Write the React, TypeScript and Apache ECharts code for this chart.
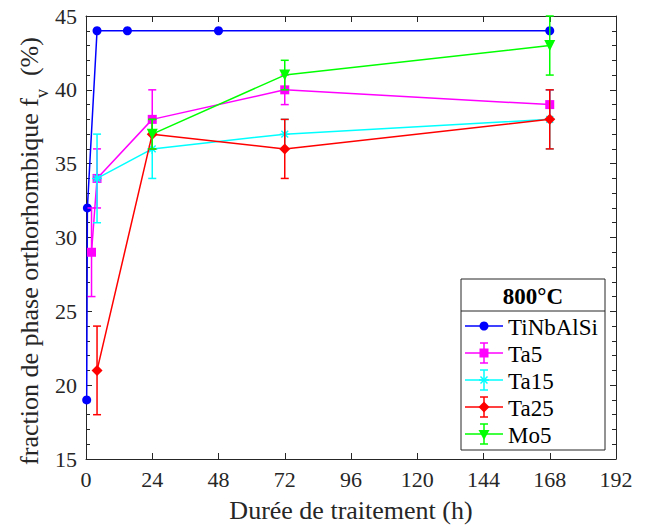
import React, { useEffect, useRef } from "react";
import * as echarts from "echarts";

const seriesNames = ["TiNbAlSi", "Ta5", "Ta15", "Ta25", "Mo5"];
const seriesColors = ["#0000ff", "#ff00ff", "#00ffff", "#ff0000", "#00ff00"];

const tiNbAlSiHours = [0.25, 0.5, 4, 15, 48, 168];
const tiNbAlSiValues = [19, 32, 44, 44, 44, 44];
const tiNbAlSiErrors = [0, 0, 0, 0, 0, 0];

const ta5Hours = [2, 4, 24, 72, 168];
const ta5Values = [29, 34, 38, 40, 39];
const ta5Errors = [3, 2, 2, 1, 1];

const ta15Hours = [4, 24, 72, 168];
const ta15Values = [34, 36, 37, 38];
const ta15Errors = [3, 2, 1, 2];

const ta25Hours = [4, 24, 72, 168];
const ta25Values = [21, 37, 36, 38];
const ta25Errors = [3, 1, 2, 2];

const mo5Hours = [24, 72, 168];
const mo5Values = [37, 41, 43];
const mo5Errors = [1, 1, 2];

const xMin = 0;
const xMax = 192;
const xStep = 24;
const yMin = 15;
const yMax = 45;
const yStep = 5;

const legendTitle = "800°C";
const xAxisTitle = "Durée de traitement (h)";
const yAxisTitleMain = "fraction de phase orthorhombique f";
const yAxisTitleSub = "v";
const yAxisTitleUnit = "  (%)";

const FONT = "Liberation Serif";
const AX = "#262626";

const ASTERISK = "path://M5,0L5,10M0,5L10,5M1.6,1.6L8.4,8.4M8.4,1.6L1.6,8.4";

const allHours = [tiNbAlSiHours, ta5Hours, ta15Hours, ta25Hours, mo5Hours];
const allValues = [tiNbAlSiValues, ta5Values, ta15Values, ta25Values, mo5Values];
const allErrors = [tiNbAlSiErrors, ta5Errors, ta15Errors, ta25Errors, mo5Errors];
const symbols = ["circle", "rect", ASTERISK, "diamond", "triangle"];
const symbolSizes = [9, 9, 10, 11, 11];
const symbolRotates = [0, 0, 0, 0, 180];

function errorSeries(i: number) {
  const color = seriesColors[i];
  const data = allHours[i]
    .map((h, k) => [h, allValues[i][k] - allErrors[i][k], allValues[i][k] + allErrors[i][k], allErrors[i][k]])
    .filter((d) => d[3] > 0);
  return {
    type: "custom",
    name: seriesNames[i] + " err",
    z: 2 + i * 2,
    clip: false,
    data,
    renderItem: (_p: any, api: any) => {
      const x = api.value(0);
      const lo = api.coord([x, api.value(1)]);
      const hi = api.coord([x, api.value(2)]);
      const w = 4;
      const st = { stroke: color, lineWidth: 1.5 };
      return {
        type: "group",
        children: [
          { type: "line", shape: { x1: lo[0], y1: lo[1], x2: hi[0], y2: hi[1] }, style: st },
          { type: "line", shape: { x1: lo[0] - w, y1: lo[1], x2: lo[0] + w, y2: lo[1] }, style: st },
          { type: "line", shape: { x1: hi[0] - w, y1: hi[1], x2: hi[0] + w, y2: hi[1] }, style: st },
        ],
      };
    },
  };
}

function lineSeries(i: number) {
  const color = seriesColors[i];
  return {
    type: "line",
    name: seriesNames[i],
    z: 3 + i * 2,
    data: allHours[i].map((h, k) => [h, allValues[i][k]]),
    symbol: symbols[i],
    symbolSize: symbolSizes[i],
    symbolRotate: symbolRotates[i],
    showAllSymbol: true,
    clip: false,
    lineStyle: { color, width: 1.5 },
    itemStyle: { color, borderColor: color, borderWidth: i === 2 ? 1.5 : 0 },
  };
}

function legendGraphic() {
  const left = 461;
  const top = 279;
  const right = 605;
  const bottom = 450;
  const sep = 311;
  const rows = [326, 353, 380, 407, 434];
  const lx1 = 465;
  const lx2 = 503;
  const mx = 484;
  const tx = 508;
  const children: any[] = [
    { type: "rect", shape: { x: left, y: top, width: right - left, height: bottom - top }, style: { fill: "#fff", stroke: AX, lineWidth: 1 } },
    { type: "line", shape: { x1: left, y1: sep, x2: right, y2: sep }, style: { stroke: AX, lineWidth: 1 } },
    {
      type: "text",
      x: (left + right) / 2,
      y: (top + sep) / 2 + 1,
      style: { text: legendTitle, fontFamily: FONT, fontSize: 23, fontWeight: "bold", fill: "#000", align: "center", verticalAlign: "middle" },
    },
  ];
  rows.forEach((y, i) => {
    const c = seriesColors[i];
    const st = { stroke: c, lineWidth: 1.5 };
    children.push({ type: "line", shape: { x1: lx1, y1: y, x2: lx2, y2: y }, style: st });
    if (i > 0) {
      children.push({ type: "line", shape: { x1: mx, y1: y - 10, x2: mx, y2: y + 10 }, style: st });
      children.push({ type: "line", shape: { x1: mx - 4, y1: y - 10, x2: mx + 4, y2: y - 10 }, style: st });
      children.push({ type: "line", shape: { x1: mx - 4, y1: y + 10, x2: mx + 4, y2: y + 10 }, style: st });
    }
    if (i === 0) children.push({ type: "circle", shape: { cx: mx, cy: y, r: 4.5 }, style: { fill: c } });
    if (i === 1) children.push({ type: "rect", shape: { x: mx - 4.5, y: y - 4.5, width: 9, height: 9 }, style: { fill: c } });
    if (i === 2) {
      children.push({ type: "line", shape: { x1: mx - 5, y1: y, x2: mx + 5, y2: y }, style: st });
      children.push({ type: "line", shape: { x1: mx - 3.5, y1: y - 3.5, x2: mx + 3.5, y2: y + 3.5 }, style: st });
      children.push({ type: "line", shape: { x1: mx + 3.5, y1: y - 3.5, x2: mx - 3.5, y2: y + 3.5 }, style: st });
    }
    if (i === 3)
      children.push({ type: "polygon", shape: { points: [[mx, y - 5.5], [mx + 5.5, y], [mx, y + 5.5], [mx - 5.5, y]] }, style: { fill: c } });
    if (i === 4)
      children.push({ type: "polygon", shape: { points: [[mx - 5.5, y - 4], [mx + 5.5, y - 4], [mx, y + 6]] }, style: { fill: c } });
    children.push({
      type: "text",
      x: tx,
      y: y + 1,
      style: {
        text: `{t|${seriesNames[i]}}`,
        fontFamily: FONT,
        fontSize: 23,
        fill: "#000",
        align: "left",
        verticalAlign: "middle",
        rich: { t: { fontFamily: FONT, fontSize: 23, fill: "#000" } },
      },
    });
  });
  return { type: "group", z: 100, children };
}

function yTitleGraphic() {
  return {
    type: "text",
    x: 29,
    y: 251,
    rotation: Math.PI / 2,
    z: 100,
    style: {
      text: `${yAxisTitleMain}{sub|${yAxisTitleSub}}${yAxisTitleUnit}`,
      fontFamily: FONT,
      fontSize: 26,
      fill: AX,
      align: "center",
      verticalAlign: "middle",
      rich: {
        sub: { fontFamily: FONT, fontSize: 18, fill: AX, padding: [26, 0, 0, 0], verticalAlign: "bottom" },
      },
    },
  };
}

export default function App() {
  const ref = useRef<HTMLDivElement>(null);
  useEffect(() => {
    if (!ref.current) return;
    const chart = echarts.init(ref.current, undefined, { renderer: "svg" });
    const tickLabel = {
      fontFamily: FONT,
      fontSize: 22,
      color: AX,
      margin: 9,
      formatter: (v: number) => `{t|${v}}`,
      rich: { t: { fontFamily: FONT, fontSize: 22, color: AX } },
    };
    const baseX = {
      type: "value",
      min: xMin,
      max: xMax,
      interval: xStep,
      splitLine: { show: false },
      axisLine: { show: true, onZero: false, lineStyle: { color: AX, width: 1 } },
      axisTick: { show: true, inside: true, length: 6, lineStyle: { color: AX } },
    };
    const baseY = {
      type: "value",
      min: yMin,
      max: yMax,
      interval: yStep,
      splitLine: { show: false },
      axisLine: { show: true, onZero: false, lineStyle: { color: AX, width: 1 } },
      axisTick: { show: true, inside: true, length: 6, lineStyle: { color: AX } },
      minorTick: { show: true, splitNumber: 5, length: 4, lineStyle: { color: AX } },
      minorSplitLine: { show: false },
    };
    const series: any[] = [];
    for (let i = 0; i < seriesNames.length; i++) {
      series.push(errorSeries(i));
      series.push(lineSeries(i));
    }
    chart.setOption({
      animation: false,
      backgroundColor: "#fff",
      textStyle: { fontFamily: FONT },
      grid: { left: 86, top: 16, right: 34, bottom: 66, containLabel: false },
      xAxis: [
        {
          ...baseX,
          position: "bottom",
          axisLabel: tickLabel,
          name: xAxisTitle,
          nameLocation: "middle",
          nameGap: 38,
          nameTextStyle: { fontFamily: FONT, fontSize: 26, color: AX },
        },
        { ...baseX, position: "top", axisLabel: { show: false } },
      ],
      yAxis: [
        {
          ...baseY,
          position: "left",
          axisLabel: tickLabel,
        },
        { ...baseY, position: "right", axisLabel: { show: false } },
      ],
      series,
      graphic: [legendGraphic(), yTitleGraphic()],
    });
    return () => chart.dispose();
  }, []);
  return (
    <div
      ref={ref}
      style={{ width: 650, height: 528, position: "absolute", left: 0, top: 0 }}
    />
  );
}
